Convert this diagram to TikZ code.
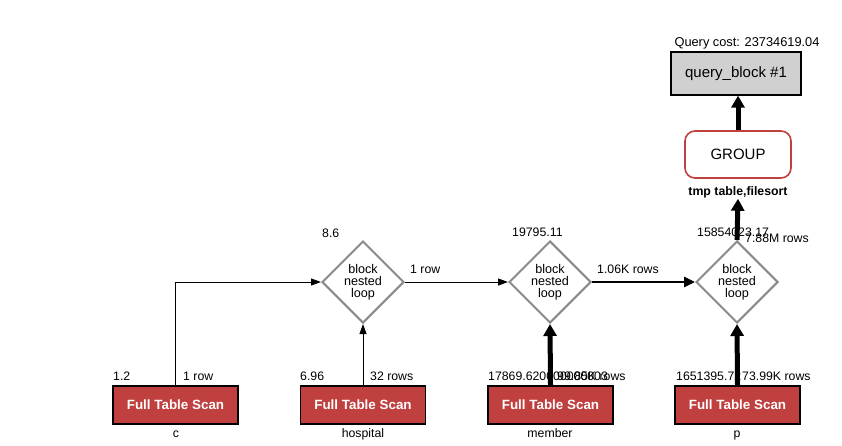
\documentclass[tikz,border=0pt]{standalone}
\usepackage{fontspec}
\setmainfont{Liberation Sans}
\usetikzlibrary{shapes.geometric,arrows.meta}
\definecolor{scanred}{HTML}{C04040}
\definecolor{qbgray}{HTML}{D0D0D0}
\definecolor{dgray}{HTML}{8A8A8A}
\begin{document}
\begin{tikzpicture}[x=1pt,y=-1pt,
  lbl/.style={anchor=base west,inner sep=0pt,font=\fontsize{12.3}{12}\selectfont},
  scanbox/.style={draw=black,line width=1.2pt,fill=scanred,minimum width=125pt,minimum height=38pt,inner sep=0pt,text=white,font=\fontsize{13.4}{14}\selectfont\bfseries},
  nlbox/.style={draw=dgray,line width=2pt,diamond,aspect=1,minimum width=82pt,minimum height=82pt,inner sep=0pt,align=center,font=\fontsize{12.6}{12}\selectfont},
  tname/.style={anchor=base,inner sep=0pt,font=\fontsize{12.3}{12}\selectfont},
  thinarr/.style={line width=1pt,-{Triangle[length=10pt,width=7pt]}},
  medarr/.style={line width=2.6pt,-{Triangle[length=11pt,width=10pt]}},
  thickarr/.style={line width=5pt,-{Triangle[length=12pt,width=13pt]}}
]
\useasboundingbox (0,0) rectangle (842,445);
% top
\node[draw=black,line width=1.2pt,fill=qbgray,minimum width=130pt,minimum height=43pt,inner sep=0pt,font=\fontsize{15}{16}\selectfont] (qb) at (736,73.5) {query\_block \#1};
\node[anchor=base,inner sep=0pt,font=\fontsize{12.8}{13}\selectfont] (qcost) at (747,46) {Query cost: 23734619.04};
\node[draw=scanred,line width=1.6pt,fill=white,rounded corners=10pt,minimum width=106pt,minimum height=47pt,inner sep=0pt,font=\fontsize{15}{16}\selectfont] (grp) at (738,154.5) {GROUP};
\node[anchor=base,inner sep=0pt,font=\fontsize{12.3}{12}\selectfont\bfseries] (grpl) at (738,195) {tmp table,filesort};
% diamonds
\node[nlbox] (d1) at (363,282) {block\\nested\\loop};
\node[nlbox] (d2) at (550,282) {block\\nested\\loop};
\node[nlbox] (d3) at (737,282) {block\\nested\\loop};
% scans
\node[scanbox] (sc) at (175.5,405) {Full Table Scan};
\node[scanbox] (sh) at (363,405) {Full Table Scan};
\node[scanbox] (sm) at (550.5,405) {Full Table Scan};
\node[scanbox] (sp) at (737.5,405) {Full Table Scan};
% table names
\node[tname] (nc) at (176,437) {c};
\node[tname] (nh) at (363,437) {hospital};
\node[tname] (nm) at (550,437) {member};
\node[tname] (np) at (737,437) {p};
% cost / rows labels
\node[lbl] (c1) at (113,380) {1.2};
\node[lbl] (r1) at (183,380) {1 row};
\node[lbl] (c2) at (300,380) {6.96};
\node[lbl] (r2) at (370,380) {32 rows};
\node[lbl] (c3) at (488,380) {17869.620000000003};
\node[lbl] (r3) at (557,380) {99.85K rows};
\node[lbl] (c4) at (676,380) {1651395.72};
\node[lbl] (r4) at (742,380) {73.99K rows};
\node[lbl] (c5) at (322,237) {8.6};
\node[lbl] (c6) at (512,236) {19795.11};
\node[lbl] (c7) at (697,236) {15854023.17};
\node[lbl] (r7) at (745,242) {7.88M rows};
\node[lbl] (r5) at (410,273) {1 row};
\node[lbl] (r6) at (597,273) {1.06K rows};
% connectors
\draw[thinarr] (sc.north) |- (d1.west);
\draw[thinarr] (sh.north) -- (d1.south);
\draw[thinarr] (d1.east) -- (d2.west);
\draw[medarr] (d2.east) -- (d3.west);
\draw[thickarr] (sm.north) -- (d2.south);
\draw[thickarr] (sp.north) -- (d3.south);
\draw[thickarr] (d3.north) -- ([yshift=-1pt]grpl.south);
\draw[thickarr] (grp.north) -- (qb.south -| grp.north);
\end{tikzpicture}
\end{document}
